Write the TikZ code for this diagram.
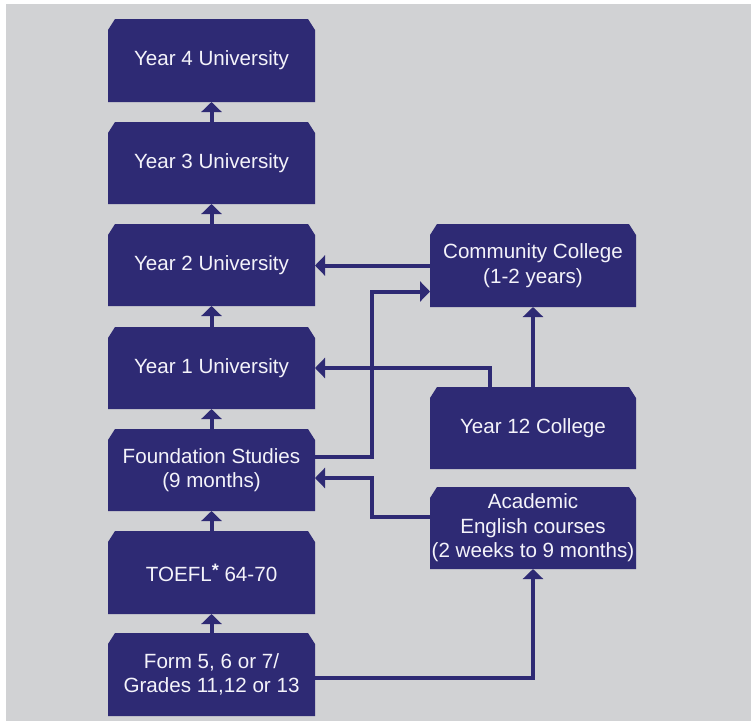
\documentclass[tikz,border=0pt]{standalone}
\usepackage{fontspec}
\setmainfont{Liberation Sans}
\usetikzlibrary{arrows.meta}
\definecolor{bggray}{HTML}{D1D2D4}
\definecolor{boxblue}{HTML}{2E2A74}
\definecolor{txtwhite}{HTML}{F4F3FA}
\newcommand{\cbox}[6]{%
  \fill[boxblue] (#2+7,#3) -- (#4-7,#3) -- (#4,#3+11) -- (#4,#5) -- (#2,#5) -- (#2,#3+11) -- cycle;
  \node[boxtext, minimum width={#4-#2}, minimum height={#5-#3}] (#1) at ({(#2+#4)/2},{(#3+#5)/2}) {#6};
}
\begin{document}
\begin{tikzpicture}[x=1pt,y=-1pt,
  boxtext/.style={inner sep=0pt, outer sep=0pt, align=center, text=txtwhite,
    font=\fontsize{20.6}{24.5}\selectfont},
  conn/.style={draw=boxblue, line width=4pt, -{Triangle[width=20pt,length=10pt]}}]
\useasboundingbox (0,0) rectangle (751,726);
\fill[white] (0,0) rectangle (751,726);
\fill[bggray] (6,4) rectangle (751,721);
% left column
\cbox{y4}{108}{19}{315}{102}{Year 4 University}
\cbox{y3}{108}{122}{315}{204}{Year 3 University}
\cbox{y2}{108}{224}{315}{306}{Year 2 University}
\cbox{y1}{108}{327}{315}{409}{Year 1 University}
\cbox{fs}{108}{429}{315}{511}{Foundation Studies\\(9 months)}
\cbox{toefl}{108}{531}{315}{614}{TOEFL\raisebox{5pt}{\fontsize{18}{18}\selectfont\bfseries *} 64-70}
\cbox{form}{108}{633}{315}{716}{Form 5, 6 or 7/\\Grades 11,12 or 13}
% right column
\cbox{cc}{430}{224}{636}{307}{Community College\\(1-2 years)}
\cbox{y12}{430}{387}{636}{469}{Year 12 College}
\cbox{ae}{430}{487}{636}{569}{Academic\\English courses\\(2 weeks to 9 months)}
% vertical arrows left column
\draw[conn] (form.north) -- (toefl.south);
\draw[conn] (toefl.north) -- (fs.south);
\draw[conn] (fs.north) -- (y1.south);
\draw[conn] (y1.north) -- (y2.south);
\draw[conn] (y2.north) -- (y3.south);
\draw[conn] (y3.north) -- (y4.south);
% cross connectors
\draw[conn] (cc.west) -- (cc.west -| y2.east);
\draw[conn] ([yshift=13pt]fs.east) -- ++(57,0) |- ([yshift=-26pt]cc.west);
\draw[conn] ([xshift=-43pt]y12.north) |- (y1.east);
\draw[conn] (y12.north) -- (cc.south);
\draw[conn] ([yshift=11pt]ae.west) -- ++(-58,0) |- ([yshift=-8pt]fs.east);
\draw[conn] ([yshift=-3.5pt]form.east) -| (ae.south);
\end{tikzpicture}
\end{document}
